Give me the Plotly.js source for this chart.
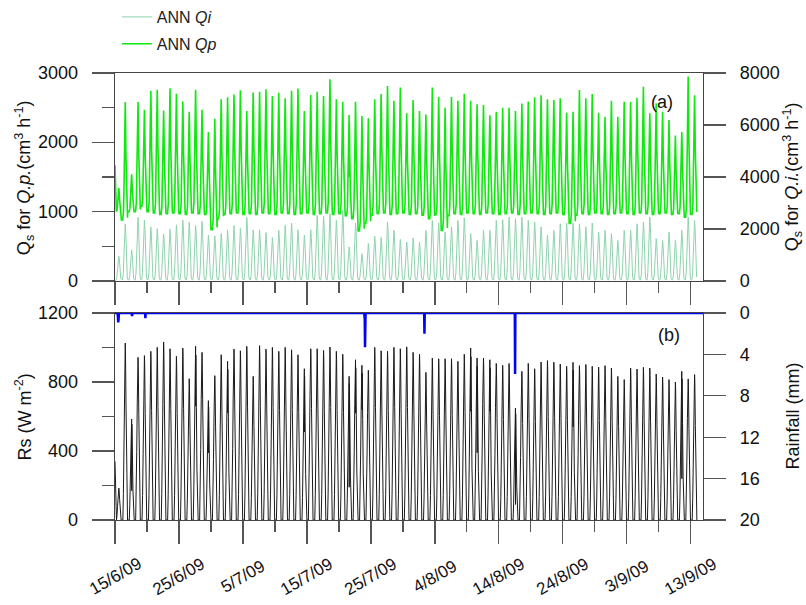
<!DOCTYPE html>
<html>
<head>
<meta charset="utf-8">
<script src="https://cdn.plot.ly/plotly-3.0.1.min.js"></script>
<style>html,body{margin:0;padding:0;background:#fff;}#chart{width:806px;height:605px;}</style>
</head>
<body>
<div id="chart"></div>
<script>
// ---------------- DATA ----------------
// Day index 0 = 15/6/09; one value per day (daily afternoon peak)
const startDate = '2009-06-15';
const rangeEnd = '2009-09-14 22:00';

const rsPeak = [185, 1026, 585, 943, 953, 978, 1001, 1032, 993, 949,
  997, 819, 1007, 972, 692, 837, 958, 920, 991, 981,
  1007, 833, 1011, 991, 1001, 978, 1001, 987, 958, 877,
  993, 993, 983, 1003, 978, 961, 833, 929, 897, 868,
  1001, 981, 978, 1001, 993, 1004, 972, 961, 856, 939,
  935, 935, 935, 920, 961, 997, 939, 939, 929, 908,
  897, 908, 649, 862, 908, 877, 916, 924, 915, 904,
  891, 914, 895, 902, 891, 887, 895, 881, 833, 814,
  881, 875, 885, 881, 846, 829, 814, 800, 862, 818,
  843];
const rsDipDay = [2, 12, 14, 17, 21, 29, 36, 37, 38, 48, 54, 55, 56, 58, 62, 71, 88];
const rsDipValue = [170, 660, 390, 620, 700, 510, 190, 620, 640, 660, 750, 630, 390, 630, 90, 540, 240];
const rsStart = 340;

const qpPeak = [1340, 2580, 1540, 2580, 2470, 2740, 2760, 2460, 2780, 2700,
  2590, 2440, 2760, 2470, 2150, 2340, 2620, 2650, 2690, 2750,
  2450, 2720, 2730, 2764, 2668, 2716, 2634, 2745, 2778, 2450,
  2682, 2730, 2668, 2908, 2620, 2586, 2394, 2586, 2380, 2346,
  2620, 2697, 2812, 2600, 2790, 2420, 2610, 2450, 2400, 2790,
  2655, 2500, 2655, 2600, 2700, 2600, 2550, 2540, 2390, 2440,
  2500, 2500, 2450, 2560, 2590, 2650, 2680, 2620, 2610, 2634,
  2428, 2442, 2754, 2634, 2697, 2428, 2370, 2600, 2370, 2586,
  2586, 2644, 2802, 2418, 2562, 2442, 2322, 2100, 2150, 2950,
  2680];
const qpNight = [1000, 880, 1000, 1000, 1080, 1000, 980, 960, 970, 980,
  970, 960, 980, 970, 960, 740, 900, 960, 970, 980,
  960, 970, 960, 980, 970, 960, 980, 970, 960, 970,
  980, 960, 970, 980, 960, 970, 940, 900, 720, 830,
  950, 970, 980, 960, 970, 980, 960, 970, 950, 900,
  960, 730, 940, 970, 960, 980, 970, 960, 980, 970,
  960, 970, 980, 960, 970, 980, 970, 960, 970, 980,
  960, 830, 950, 970, 960, 980, 970, 960, 970, 980,
  970, 960, 980, 970, 960, 970, 980, 960, 970, 920,
  960];
const qpDipDay = [36, 88];
const qpDipValue = [1500, 1980];
const qpStart = 1670;

const qiPeak = [950, 2200, 1200, 2450, 2340, 2080, 2010, 1810, 1990, 2160,
  2340, 2260, 2130, 2290, 1760, 1730, 1830, 1955, 2130, 2020,
  2440, 1960, 1970, 1860, 1670, 1950, 2140, 2230, 1970, 1760,
  1970, 2520, 2490, 2590, 2330, 2720, 1310, 2230, 1050, 1440,
  1720, 1670, 2270, 1950, 1600, 1500, 1650, 1500, 1950, 2330,
  2230, 1880, 2080, 2330, 2430, 1820, 1560, 1950, 1950, 2330,
  2360, 2460, 2400, 2460, 2330, 2270, 2080, 1760, 1950, 2200,
  2230, 2230, 2200, 2080, 2230, 1880, 1950, 1820, 1560, 1950,
  1950, 2200, 2270, 2460, 1630, 1560, 1880, 1560, 1950, 2460,
  2330];
const qiNight = 40;

// Rain events (mm)
const rainTime = ['2009-06-15 11:00', '2009-06-15 12:00', '2009-06-15 13:00', '2009-06-15 14:00',
  '2009-06-17 16:00', '2009-06-19 18:00',
  '2009-07-24 00:00', '2009-07-24 01:00', '2009-07-24 02:00', '2009-07-24 03:00',
  '2009-08-02 09:00', '2009-08-16 13:00'];
const rainMm = [0.4, 0.9, 0.7, 0.3, 0.3, 0.5, 0.4, 0.6, 3.3, 0.3, 2.0, 5.9];

// Diurnal shapes (hour of day -> fraction of daily swing)
const rsHours = [0, 5.5, 7.5, 9.5, 11.5, 13.5, 14.4, 15.3, 17.3, 19.3, 21.3, 23];
const rsFrac  = [0, 0, 0.15, 0.42, 0.72, 0.95, 1, 0.95, 0.65, 0.3, 0.05, 0];
const qpHours = [0, 5, 8, 10, 12, 13.5, 14.4, 15.5, 17, 19, 21, 23];
const qpFrac  = [0, 0, 0.08, 0.3, 0.65, 0.92, 1, 0.85, 0.55, 0.25, 0.08, 0.02];
const qiHours = [0, 4, 7, 10, 12.5, 14.4, 16.5, 19, 22];
const qiFrac  = [0.01, 0, 0.12, 0.55, 0.9, 1, 0.85, 0.35, 0.05];

const tickDates = ['2009-06-15', '2009-06-25', '2009-07-05', '2009-07-15', '2009-07-25',
  '2009-08-04', '2009-08-14', '2009-08-24', '2009-09-03', '2009-09-13'];
const tickLabels = ['15/6/09', '25/6/09', '5/7/09', '15/7/09', '25/7/09',
  '4/8/09', '14/8/09', '24/8/09', '3/9/09', '13/9/09'];
const qpTickVals = [0, 1000, 2000, 3000];
const rsTickVals = [0, 400, 800, 1200];

const titleQp = 'Q<sub>s</sub> for <i>Q.p.</i>(cm<sup>3</sup> h<sup>-1</sup>)';
const titleQi = 'Q<sub>s</sub> for <i>Q.i.</i>(cm<sup>3</sup> h<sup>-1</sup>)';
const titleRs = 'Rs (W m<sup>-2</sup>)';
const titleRain = 'Rainfall (mm)';

// ---------------- BUILD SERIES ----------------
const T0 = Date.UTC(2009, 5, 15, 0, 0, 0);
function ts(h) {
  return new Date(T0 + h * 3600000).toISOString().slice(0, 16).replace('T', ' ');
}
function parseT(s) {
  const p = s.split(/[- :]/).map(Number);
  return (Date.UTC(p[0], p[1] - 1, p[2], p[3] || 0, p[4] || 0) - T0) / 3600000;
}
function build(peaks, night, hours, frac, dipDays, dipVals, startVal) {
  const xs = [], ys = [];
  const peakIdx = frac.indexOf(1);
  for (let d = 0; d < peaks.length; d++) {
    const base = Array.isArray(night) ? night[d] : night;
    const di = dipDays ? dipDays.indexOf(d) : -1;
    for (let k = 0; k < hours.length; k++) {
      let v = base + frac[k] * (peaks[d] - base);
      if (d === 0 && k === 0 && startVal !== undefined) v = startVal;
      xs.push(ts(d * 24 + hours[k])); ys.push(v);
      if (k === peakIdx && di >= 0) {
        xs.push(ts(d * 24 + hours[k] + 0.3)); ys.push(dipVals[di]);
        xs.push(ts(d * 24 + hours[k] + 0.6)); ys.push(base + 0.93 * (peaks[d] - base));
      }
    }
  }
  return {x: xs, y: ys};
}
const rs = build(rsPeak, 0, rsHours, rsFrac, rsDipDay, rsDipValue, rsStart);
const qp = build(qpPeak, qpNight, qpHours, qpFrac, qpDipDay, qpDipValue, qpStart);
const qi = build(qiPeak, qiNight, qiHours, qiFrac, null, null, 0);

// rain line: zero baseline with spikes
const rainX = [startDate + ' 00:00'], rainY = [0];
let lastH = -1;
for (let i = 0; i < rainTime.length; i++) {
  const h = parseT(rainTime[i]);
  if (h - 1 > lastH) { rainX.push(ts(h - 1)); rainY.push(0); }
  rainX.push(ts(h)); rainY.push(rainMm[i]);
  const nextH = i + 1 < rainTime.length ? parseT(rainTime[i + 1]) : 1e9;
  if (nextH - h > 1) { rainX.push(ts(h + 1)); rainY.push(0); lastH = h + 1; } else { lastH = h; }
}
rainX.push(rangeEnd); rainY.push(0);

// ---------------- PLOT ----------------
const FAM = 'Liberation Sans, Arial, sans-serif';
const axCol = '#444';
const tickFont = {family: FAM, size: 18, color: '#111'};
const xLabFont = {family: FAM, size: 17, color: '#111'};
const titleFont = {family: FAM, size: 18, color: '#111'};
const DAY = 86400000;

const traces = [
  {x: qi.x, y: qi.y, xaxis: 'x2', yaxis: 'y3', type: 'scatter', mode: 'lines',
   name: 'ANN <i>Qi</i>', legendgroup: 'qi', line: {color: '#8fd3ad', width: 1}},
  {x: qp.x, y: qp.y, xaxis: 'x2', yaxis: 'y4', type: 'scatter', mode: 'lines',
   name: 'ANN <i>Qp</i>', legendgroup: 'qp', line: {color: '#10e810', width: 1.6}},
  {x: rs.x, y: rs.y, xaxis: 'x', yaxis: 'y', type: 'scatter', mode: 'lines',
   name: 'Rs', showlegend: false, line: {color: '#1a1a1a', width: 1}},
  {x: rainX, y: rainY, xaxis: 'x', yaxis: 'y2', type: 'scatter', mode: 'lines',
   name: 'Rainfall', showlegend: false, line: {color: '#0000ff', width: 2.5}}
];

function xAx(anchor) {
  return {type: 'date', range: [startDate + ' 00:00', rangeEnd], anchor: anchor,
    showline: true, mirror: true, linecolor: axCol, linewidth: 1.2,
    ticks: 'outside', ticklen: 23, tickwidth: 1.3, tickcolor: '#555',
    tick0: startDate, dtick: 10 * DAY, showticklabels: false,
    showgrid: false, zeroline: false,
    minor: {ticks: 'outside', ticklen: 11, tickwidth: 1.3, tickcolor: '#555',
            tick0: startDate, dtick: 5 * DAY, showgrid: false}};
}
function yAx(o) {
  return Object.assign({showline: true, linecolor: axCol, linewidth: 1.2,
    ticks: 'outside', ticklen: 22, tickwidth: 1.3, tickcolor: '#555',
    showgrid: false, zeroline: false, tickfont: tickFont, ticklabelstandoff: 10,
    autorange: false, automargin: false}, o);
}

const annotations = tickDates.map((d, i) => ({
  x: d, xref: 'x', y: -0.1253, yref: 'paper', text: tickLabels[i],
  showarrow: false, textangle: -30, font: xLabFont, xanchor: 'center', yanchor: 'middle'
}));
// left tick labels
qpTickVals.forEach(v => annotations.push({x: -0.0595, xref: 'paper', y: v, yref: 'y4',
  text: String(v), showarrow: false, font: tickFont, xanchor: 'right', yanchor: 'middle'}));
rsTickVals.forEach(v => annotations.push({x: -0.0595, xref: 'paper', y: v, yref: 'y',
  text: String(v), showarrow: false, font: tickFont, xanchor: 'right', yanchor: 'middle'}));
annotations.push({x: 0.952, y: 0.962, xref: 'paper', yref: 'paper', text: '(a)',
  showarrow: false, font: tickFont});
annotations.push({x: 0.964, y: 0.414, xref: 'paper', yref: 'paper', text: '(b)',
  showarrow: false, font: tickFont});
// axis titles
[[titleQp, -0.1548, 0.767], [titleRs, -0.1548, 0.2315],
 [titleQi, 1.1514, 0.767], [titleRain, 1.1514, 0.2315]].forEach(t => annotations.push({
  x: t[1], y: t[2], xref: 'paper', yref: 'paper', text: t[0], showarrow: false,
  textangle: -90, font: titleFont, xanchor: 'center', yanchor: 'middle'}));

const layout = {
  width: 806, height: 605,
  margin: {l: 115, r: 103, t: 73, b: 85, autoexpand: false},
  paper_bgcolor: '#fff', plot_bgcolor: '#fff',
  font: tickFont,
  showlegend: true,
  legend: {xref: 'container', yref: 'container', x: 0.145, y: 1.0,
    xanchor: 'left', yanchor: 'top',
    font: {family: FAM, size: 16, color: '#222'},
    bgcolor: 'rgba(0,0,0,0)', itemwidth: 30, tracegroupgap: 3},
  xaxis: xAx('y'),
  xaxis2: Object.assign(xAx('y3'), {matches: 'x'}),
  yaxis: yAx({domain: [0, 0.463], range: [0, 1200], tick0: 0, dtick: 400, showticklabels: false,
    minor: {ticks: 'outside', ticklen: 12, tickwidth: 1.3, tickcolor: '#555', dtick: 200, showgrid: false}}),
  yaxis2: yAx({overlaying: 'y', side: 'right', anchor: 'x', range: [20, 0], tick0: 0, dtick: 4}),
  yaxis3: yAx({domain: [0.5347, 1], anchor: 'x2', side: 'right', range: [0, 8000], tick0: 0, dtick: 2000}),
  yaxis4: yAx({overlaying: 'y3', side: 'left', anchor: 'x2', range: [0, 3000], tick0: 0, dtick: 1000, showticklabels: false,
    minor: {ticks: 'outside', ticklen: 12, tickwidth: 1.3, tickcolor: '#555', dtick: 500, showgrid: false}}),
  annotations: annotations
};

Plotly.newPlot('chart', traces, layout, {displayModeBar: false, staticPlot: true});
</script>
</body>
</html>
